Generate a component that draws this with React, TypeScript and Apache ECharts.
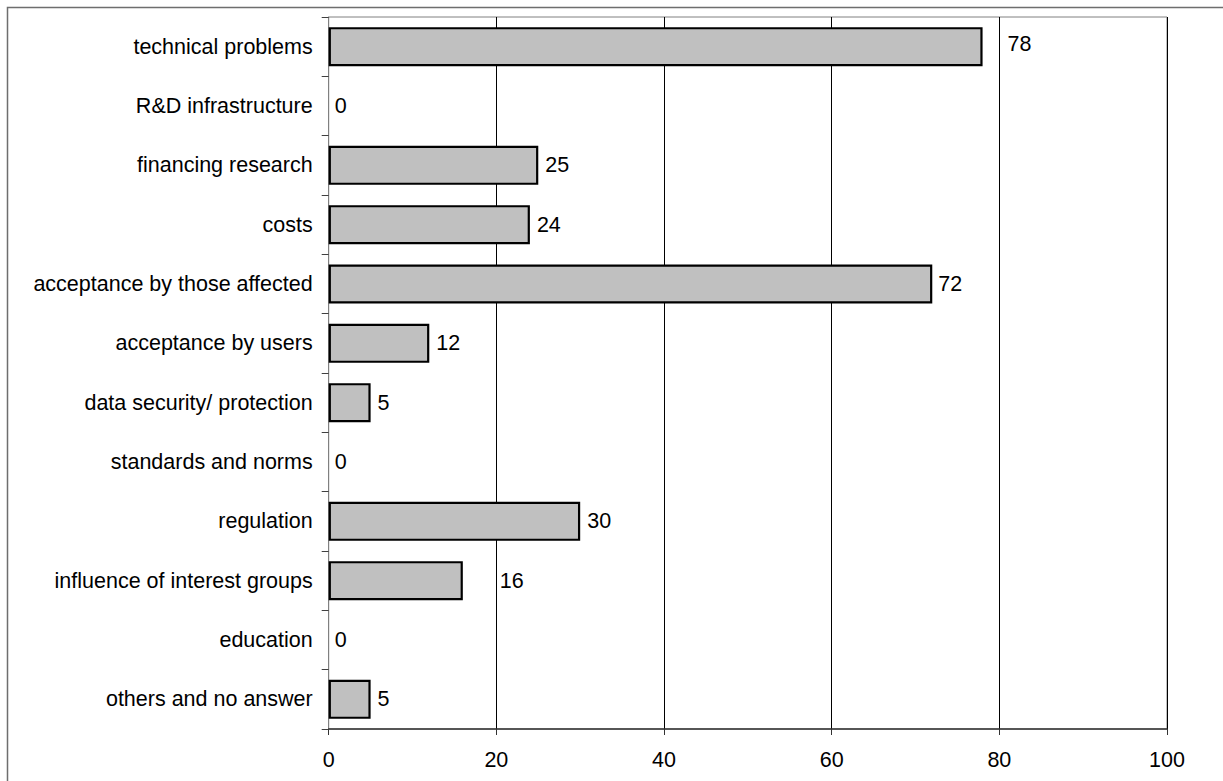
import React, { useEffect, useRef } from "react";
import * as echarts from "echarts";

// Obstacles named by respondents, percent of answers
const categories: string[] = [
  "technical problems",
  "R&D infrastructure",
  "financing research",
  "costs",
  "acceptance by those affected",
  "acceptance by users",
  "data security/ protection",
  "standards and norms",
  "regulation",
  "influence of interest groups",
  "education",
  "others and no answer",
];

const shares: number[] = [78, 0, 25, 24, 72, 12, 5, 0, 30, 16, 0, 5];

// Distance of each value label from its bar end (a few are set further out)
const labelDistances: number[] = [25, 6, 7, 7, 6, 7, 7, 6, 7, 37, 6, 7];

const xTicks: number[] = [0, 20, 40, 60, 80, 100];

const FONT = '"Liberation Sans", Arial, Helvetica, sans-serif';

export default function App() {
  const ref = useRef<HTMLDivElement | null>(null);

  useEffect(() => {
    if (!ref.current) return;
    const chart = echarts.init(ref.current, undefined, { renderer: "svg" });

    const data = shares.map((v, i) => ({
      value: v,
      itemStyle: v === 0 ? { borderWidth: 0 } : undefined,
      label: {
        distance: labelDistances[i],
        offset: i === 0 ? [0, -3] : [0, 0],
      },
    }));

    chart.setOption({
      animation: false,
      backgroundColor: "#ffffff",
      textStyle: { fontFamily: FONT },
      grid: {
        left: 328.7,
        right: 56,
        top: 17,
        bottom: 52,
        show: true,
        borderColor: "#808080",
        borderWidth: 1,
        containLabel: false,
      },
      xAxis: {
        type: "value",
        min: xTicks[0],
        max: xTicks[xTicks.length - 1],
        interval: 20,
        axisLine: { show: true, lineStyle: { color: "#333333", width: 1.5 } },
        axisTick: { show: true, length: 6, lineStyle: { color: "#333333", width: 1 } },
        axisLabel: {
          color: "#000000",
          fontSize: 21.5,
          fontFamily: FONT,
          margin: 20,
        },
        splitLine: { show: true, lineStyle: { color: "#000000", width: 1 } },
      },
      yAxis: {
        type: "category",
        data: categories,
        inverse: true,
        axisLine: { show: true, lineStyle: { color: "#808080", width: 1 } },
        axisTick: {
          show: true,
          alignWithLabel: false,
          length: 7,
          lineStyle: { color: "#404040", width: 1 },
        },
        axisLabel: {
          color: "#000000",
          fontSize: 21.5,
          fontFamily: FONT,
          margin: 16,
        },
        splitLine: { show: false },
      },
      graphic: [
        {
          type: "polyline",
          silent: true,
          shape: {
            points: [
              [7.5, 781],
              [7.5, 7.5],
              [1223, 7.5],
            ],
          },
          style: { stroke: "#6e6e6e", lineWidth: 1.5, fill: "none" },
        },
      ],
      series: [
        {
          type: "bar",
          data,
          barWidth: 39,
          itemStyle: {
            color: "#c0c0c0",
            borderColor: "#000000",
            borderWidth: 2.2,
          },
          label: {
            show: true,
            position: "right",
            color: "#000000",
            fontSize: 21.5,
            fontFamily: FONT,
          },
        },
      ],
    });

    return () => {
      chart.dispose();
    };
  }, []);

  return (
    <div
      ref={ref}
      style={{
        position: "fixed",
        left: 0,
        top: 0,
        width: 1223,
        height: 781,
        background: "#ffffff",
      }}
    />
  );
}
